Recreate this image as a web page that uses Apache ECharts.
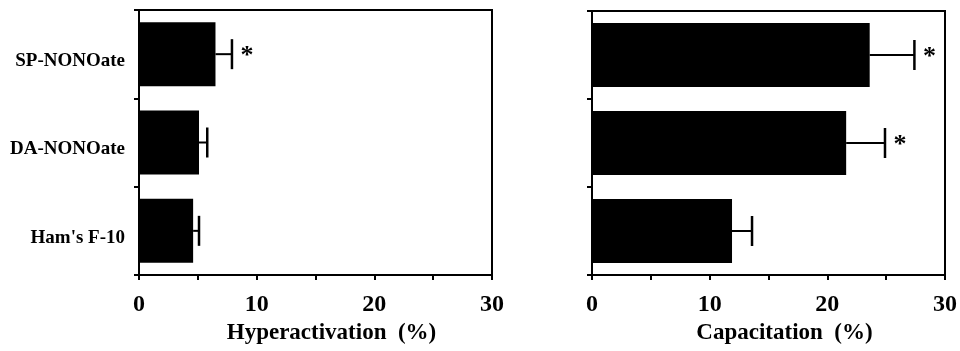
<!DOCTYPE html>
<html>
<head>
<meta charset="utf-8">
<script src="https://cdn.jsdelivr.net/npm/echarts@6/dist/echarts.min.js"></script>
<style>
html,body{margin:0;padding:0;background:#fff;}
#c{width:960px;height:351px;}
</style>
</head>
<body>
<div id="c"></div>
<script>
// ---- data ----
const categories = ["SP-NONOate", "DA-NONOate", "Ham's F-10"];
const hyperMean = [6.5, 5.1, 4.6];
const hyperErr = [1.4, 0.7, 0.5];
const hyperSig = [1, 0, 0];
const capMean = [23.6, 21.6, 11.9];
const capErr = [3.8, 3.3, 1.7];
const capSig = [1, 1, 0];
const xTickLabels = [0, 10, 20, 30];
const xNames = ["Hyperactivation  (%)", "Capacitation  (%)"];

const FONT = "'Liberation Serif', 'Times New Roman', serif";

function errData(mean, err, sig) {
  return mean.map((m, i) => [i, m, m + err[i], sig[i]]);
}

function renderErr(params, api) {
  const cat = api.value(0);
  const m = api.value(1);
  const e = api.value(2);
  const s = api.value(3);
  const p0 = api.coord([m, cat]);
  const p1 = api.coord([e, cat]);
  const half = 15;
  const children = [
    { type: 'line', shape: { x1: p0[0], y1: p0[1], x2: p1[0], y2: p1[1] }, style: { stroke: '#000', lineWidth: 2 } },
    { type: 'line', shape: { x1: p1[0], y1: p1[1] - half, x2: p1[0], y2: p1[1] + half }, style: { stroke: '#000', lineWidth: 2.5 } }
  ];
  if (s) {
    children.push({
      type: 'text',
      style: { text: '*', x: p1[0] + 15, y: p1[1] + 2, fill: '#000', font: 'bold 26px ' + FONT, align: 'center', verticalAlign: 'middle' }
    });
  }
  return { type: 'group', children: children };
}

function xAxis(idx) {
  return {
    type: 'value', gridIndex: idx, min: 0, max: 30, interval: 5,
    name: xNames[idx], nameLocation: 'middle', nameGap: 45,
    nameTextStyle: { fontFamily: FONT, fontWeight: 'bold', fontSize: 23, color: '#000', padding: [0, 0, 0, 32] },
    axisLine: { show: true, lineStyle: { color: '#000', width: 2 } },
    axisTick: { show: true, length: 5, lineStyle: { color: '#000', width: 2 } },
    axisLabel: {
      margin: 18, fontFamily: FONT, fontWeight: 'bold', fontSize: 24, color: '#000',
      formatter: v => (xTickLabels.indexOf(v) >= 0 ? String(v) : '')
    },
    splitLine: { show: false }
  };
}

function yAxis(idx, showLabels) {
  return {
    type: 'category', gridIndex: idx, data: categories, inverse: true,
    axisLine: { show: true, lineStyle: { color: '#000', width: 2 } },
    axisTick: { show: true, length: 5, lineStyle: { color: '#000', width: 2 } },
    axisLabel: {
      show: showLabels, margin: 14, fontFamily: FONT, fontWeight: 'bold', fontSize: 19, color: '#000',
      verticalAlign: 'top', lineHeight: 14
    },
    splitLine: { show: false }
  };
}

const chart = echarts.init(document.getElementById('c'));
chart.setOption({
  animation: false,
  backgroundColor: '#fff',
  grid: [
    { left: 139, right: 468, top: 10, bottom: 76, show: true, borderColor: '#000', borderWidth: 2 },
    { left: 592, right: 15, top: 11, bottom: 76, show: true, borderColor: '#000', borderWidth: 2 }
  ],
  xAxis: [xAxis(0), xAxis(1)],
  yAxis: [yAxis(0, true), yAxis(1, false)],
  series: [
    { type: 'bar', xAxisIndex: 0, yAxisIndex: 0, data: hyperMean, barWidth: 64, itemStyle: { color: '#000' } },
    { type: 'custom', xAxisIndex: 0, yAxisIndex: 0, data: errData(hyperMean, hyperErr, hyperSig), renderItem: renderErr, z: 5 },
    { type: 'bar', xAxisIndex: 1, yAxisIndex: 1, data: capMean, barWidth: 64, itemStyle: { color: '#000' } },
    { type: 'custom', xAxisIndex: 1, yAxisIndex: 1, data: errData(capMean, capErr, capSig), renderItem: renderErr, z: 5 }
  ]
});
</script>
</body>
</html>
